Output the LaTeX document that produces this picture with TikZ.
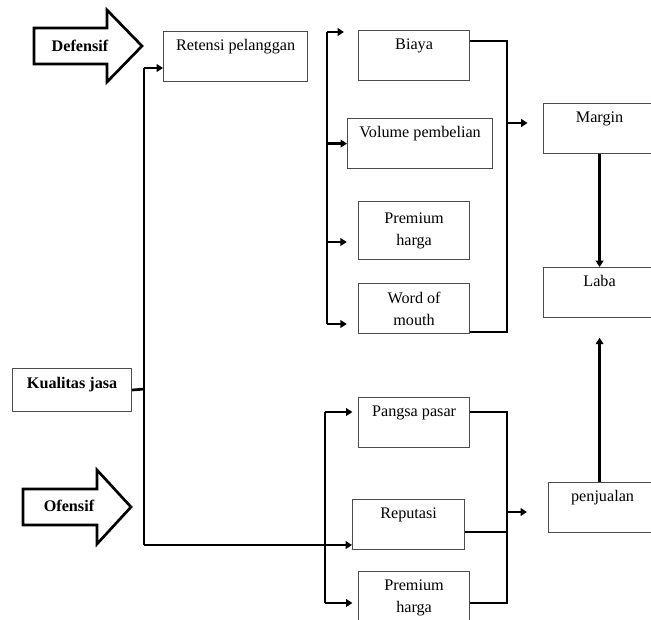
\documentclass[tikz,border=0pt]{standalone}
\usepackage{fontspec}
\setmainfont{Liberation Serif}
\usetikzlibrary{arrows.meta}

\tikzset{
  box/.style={draw=black!70, line width=0.8pt, rectangle, anchor=north west,
    inner sep=0pt, font=\fontsize{11.5}{15.5}\selectfont},
  topbox/.style={box, text height=0.475cm, text depth=0.775cm},
  twobox/.style={box, align=center},
  tagtext/.style={font=\fontsize{11.5}{14}\selectfont\bfseries, inner sep=0pt},
  conn/.style={line width=1.9pt, line join=miter},
  tip/.style={-{Triangle[length=4.5pt,width=5.5pt]}},
  blockarrow/.style={line width=1.9pt, line join=miter},
}

\begin{document}
\begin{tikzpicture}[x=0.025cm, y=-0.025cm]
    \useasboundingbox (0,0) rectangle (651,619);
    \clip (0,0) rectangle (651,619);
    % Block arrows
    \draw[blockarrow] (34,28) -- (107,28) -- (107,10) -- (142,46) -- (107,82) -- (107,64) -- (34,64) -- cycle;
    \node[tagtext] (defensif) at (80,46) {Defensif};
    \draw[blockarrow] (23,489) -- (97,489) -- (97,470) -- (131,507) -- (97,544) -- (97,525) -- (23,525) -- cycle;
    \node[tagtext] (ofensif) at (69,506) {Ofensif};
    % Nodes
    \node[box, minimum width=2.975cm, text height=0.5cm, text depth=0.575cm, font=\fontsize{11.5}{14}\selectfont\bfseries] (kual) at (12,368) {Kualitas jasa};
    \node[topbox, minimum width=3.6cm] (ret) at (163,31) {Retensi pelanggan};
    \node[topbox, minimum width=2.775cm] (biaya) at (358,30) {Biaya};
    \node[topbox, minimum width=3.625cm] (vol) at (347,118) {Volume pembelian};
    \node[twobox, minimum width=2.775cm, minimum height=1.45cm] (prem1) at (358,201) {Premium\\harga};
    \node[twobox, minimum width=2.775cm, minimum height=1.25cm] (wom) at (358,283) {Word of\\mouth};
    \node[topbox, minimum width=2.8cm] (margin) at (543,103) {Margin};
    \node[topbox, minimum width=2.8cm] (laba) at (543,267) {Laba};
    \node[topbox, minimum width=2.7cm] (penj) at (548,482) {penjualan};
    \node[topbox, minimum width=2.775cm] (pangsa) at (358,397) {Pangsa pasar};
    \node[topbox, minimum width=2.8cm] (reput) at (352,499) {Reputasi};
    \node[twobox, minimum width=2.775cm, minimum height=1.3cm] (prem2) at (358,571) {Premium\\harga};
    % Edges
    \coordinate (hub) at (144,389);
    \coordinate (hubtop) at (144,68);
    \coordinate (hubbot) at (144,545);
    \draw[conn] (kual.east) -- (hub);
    \draw[conn] (hubtop) -- (hubbot);
    \draw[conn, tip] (hubtop) -- (hubtop -| ret.west);
    \draw[conn, tip] (hubbot) -- (hubbot -| reput.west);
    % upper group
    \coordinate (ta) at (327,32);
    \coordinate (tc) at (327,242);
    \coordinate (tb) at (327,324);
    \draw[conn] (ta) -- (tb);
    \draw[conn, tip, shorten >=10pt] (ta) -- (ta -| biaya.west);
    \draw[conn, tip] (vol.west -| ta) -- (vol.west);
    \draw[conn, tip, shorten >=8pt] (tc) -- (tc -| prem1.west);
    \draw[conn, tip, shorten >=8pt] (tb) -- (tb -| wom.west);
    \coordinate (tr1) at (507,41);
    \coordinate (tr2) at (507,332);
    \coordinate (tm) at (507,123);
    \draw[conn] (biaya.east |- tr1) -- (tr1) -- (tr2) -- (tr2 -| wom.east);
    \draw[conn, tip, shorten >=11pt] (tm) -- (tm -| margin.west);
    \draw[conn, tip] (margin.south) -- (laba.north);
    \draw[conn, tip, shorten >=14pt] (laba.south |- penj.north) -- (laba.south);
    % lower group
    \coordinate (ba) at (325,412);
    \coordinate (bb) at (325,603);
    \draw[conn] (ba) -- (bb);
    \draw[conn, tip, shorten >=4pt] (ba) -- (ba -| pangsa.west);
    \draw[conn, tip, shorten >=4pt] (bb) -- (bb -| prem2.west);
    \coordinate (br1) at (507,412);
    \coordinate (br2) at (507,603);
    \coordinate (br3) at (507,532);
    \coordinate (bm) at (507,512);
    \draw[conn] (pangsa.east |- br1) -- (br1) -- (br2) -- (br2 -| prem2.east);
    \draw[conn] (br3 -| reput.east) -- (br3);
    \draw[conn, tip, shorten >=15pt] (bm) -- (bm -| penj.west);
\end{tikzpicture}
\end{document}
